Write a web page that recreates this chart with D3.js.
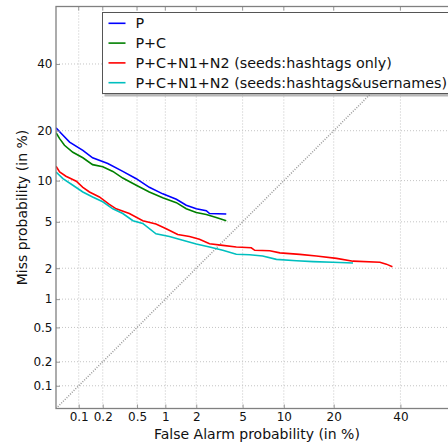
<!DOCTYPE html>
<html>
<head>
<meta charset="utf-8">
<script src="https://cdn.jsdelivr.net/npm/d3@7"></script>
<style>
  body { margin: 0; background: #fff; }
  svg { display: block; font-family: "DejaVu Sans", sans-serif; }
</style>
</head>
<body>
<svg id="chart" width="448" height="445"></svg>
<script>
// DET curves, values in percent
const tickValues = [0.1, 0.2, 0.5, 1, 2, 5, 10, 20, 40];
const seriesNames = [
  'P',
  'P+C',
  'P+C+N1+N2 (seeds:hashtags only)',
  'P+C+N1+N2 (seeds:hashtags&usernames)'
];
const seriesColors = ['#0000ff', '#008000', '#ff0000', '#00bfbf'];

const pFalseAlarm = [0.05, 0.059, 0.076, 0.113, 0.15, 0.23, 0.345, 0.49, 0.68, 0.94, 1.29, 1.61, 2.0, 2.47, 2.64, 3.68];
const pMiss = [20.7, 19.3, 17.3, 15.5, 14.0, 12.9, 11.5, 10.3, 9.0, 8.1, 7.4, 6.7, 6.3, 6.1, 5.8, 5.75];

const pcFalseAlarm = [0.05, 0.056, 0.065, 0.084, 0.113, 0.15, 0.20, 0.264, 0.345, 0.49, 0.68, 0.94, 1.29, 1.61, 2.0, 2.47, 3.02, 3.68];
const pcMiss = [19.5, 18.1, 16.6, 15.1, 14.0, 12.7, 12.3, 11.5, 10.4, 9.3, 8.35, 7.6, 7.0, 6.3, 5.9, 5.7, 5.4, 5.1];

const hashFalseAlarm = [0.05, 0.056, 0.068, 0.093, 0.113, 0.137, 0.182, 0.24, 0.289, 0.41, 0.578, 0.80, 1.02, 1.33, 1.73, 2.14, 2.64, 3.44, 4.45, 5.84, 6.2, 8.0, 9.4, 12.7, 16.0, 20.7, 25.1, 33.2, 35.3, 37.3];
const hashMiss = [12.4, 11.4, 10.7, 9.9, 9.0, 8.35, 7.7, 6.8, 6.3, 5.8, 5.1, 4.8, 4.4, 3.95, 3.8, 3.6, 3.3, 3.2, 3.1, 3.05, 2.9, 2.87, 2.75, 2.67, 2.58, 2.46, 2.32, 2.27, 2.18, 2.06];

const userFalseAlarm = [0.05, 0.062, 0.084, 0.113, 0.15, 0.20, 0.264, 0.345, 0.45, 0.578, 0.80, 1.1, 1.49, 2.0, 2.64, 3.44, 4.45, 5.67, 7.1, 8.9, 12.1, 15.3, 19.8, 25.1];
const userMiss = [11.4, 10.3, 9.3, 8.35, 7.7, 7.1, 6.3, 5.8, 5.1, 4.85, 4.0, 3.8, 3.54, 3.28, 3.1, 2.9, 2.68, 2.65, 2.58, 2.41, 2.34, 2.3, 2.27, 2.23];

const series = [
  [pFalseAlarm, pMiss],
  [pcFalseAlarm, pcMiss],
  [hashFalseAlarm, hashMiss],
  [userFalseAlarm, userMiss]
].map(([fa, miss], i) => ({
  name: seriesNames[i],
  color: seriesColors[i],
  points: fa.map((v, j) => [v, miss[j]])
}));

// inverse normal cdf (Acklam)
const probit = p => {
  const a = [-3.969683028665376e+01, 2.209460984245205e+02, -2.759285104469687e+02, 1.383577518672690e+02, -3.066479806614716e+01, 2.506628277459239e+00];
  const b = [-5.447609879822406e+01, 1.615858368580409e+02, -1.556989798598866e+02, 6.680131188771972e+01, -1.328068155288572e+01];
  const c = [-7.784894002430293e-03, -3.223964580411365e-01, -2.400758277161838e+00, -2.549732539343734e+00, 4.374664141464968e+00, 2.938163982698783e+00];
  const d = [7.784695709041462e-03, 3.224671290700398e-01, 2.445134137142996e+00, 3.754408661907416e+00];
  const plow = 0.02425;
  if (p < plow) {
    const q = Math.sqrt(-2 * Math.log(p));
    return (((((c[0] * q + c[1]) * q + c[2]) * q + c[3]) * q + c[4]) * q + c[5]) /
      ((((d[0] * q + d[1]) * q + d[2]) * q + d[3]) * q + 1);
  }
  if (p <= 1 - plow) {
    const q = p - 0.5, r = q * q;
    return (((((a[0] * r + a[1]) * r + a[2]) * r + a[3]) * r + a[4]) * r + a[5]) * q /
      (((((b[0] * r + b[1]) * r + b[2]) * r + b[3]) * r + b[4]) * r + 1);
  }
  const q = Math.sqrt(-2 * Math.log(1 - p));
  return -(((((c[0] * q + c[1]) * q + c[2]) * q + c[3]) * q + c[4]) * q + c[5]) /
    ((((d[0] * q + d[1]) * q + d[2]) * q + d[3]) * q + 1);
};
const z = pct => probit(pct / 100);

const lo = 0.05, hi = 60;
const plot = { left: 56, top: 6.5, bottom: 408.5 };
const unit = 113.4;
const x = d3.scaleLinear().domain([z(lo), z(hi)]).range([plot.left, plot.left + (z(hi) - z(lo)) * unit]);
const y = d3.scaleLinear().domain([z(lo), z(hi)]).range([plot.bottom, plot.top]);
const right = x.range()[1];

const svg = d3.select('#chart');

svg.append('defs').append('clipPath').attr('id', 'clip')
  .append('rect')
  .attr('x', plot.left).attr('y', plot.top)
  .attr('width', right - plot.left).attr('height', plot.bottom - plot.top);

// grid
const grid = svg.append('g');
grid.selectAll('.vgrid')
  .data(tickValues)
  .enter().append('line')
  .attr('x1', d => x(z(d))).attr('x2', d => x(z(d)))
  .attr('y1', plot.top).attr('y2', plot.bottom)
  .style('stroke', '#c4c4c4').style('stroke-dasharray', '1,2');
grid.selectAll('.hgrid')
  .data(tickValues)
  .enter().append('line')
  .attr('y1', d => y(z(d))).attr('y2', d => y(z(d)))
  .attr('x1', plot.left).attr('x2', right)
  .style('stroke', '#c4c4c4').style('stroke-dasharray', '1,2');

// chance diagonal
svg.append('line')
  .attr('clip-path', 'url(#clip)')
  .attr('x1', x(z(lo))).attr('y1', y(z(lo)))
  .attr('x2', x(z(hi))).attr('y2', y(z(hi)))
  .style('stroke', '#999').style('stroke-width', 1.5).style('stroke-dasharray', '1,1.5');

// curves
const line = d3.line()
  .x(d => x(z(d[0])))
  .y(d => y(z(d[1])));

svg.append('g').attr('clip-path', 'url(#clip)')
  .selectAll('path')
  .data(series)
  .enter().append('path')
  .attr('d', d => line(d.points))
  .style('fill', 'none')
  .style('stroke', d => d.color)
  .style('stroke-width', 1.6);

// axes
const fmt = d => String(d);
const xAxis = d3.axisBottom(x)
  .tickValues(tickValues.map(z))
  .tickFormat((v, i) => fmt(tickValues[i]))
  .tickSizeInner(-4).tickSizeOuter(0).tickPadding(4);
const yAxis = d3.axisLeft(y)
  .tickValues(tickValues.map(z))
  .tickFormat((v, i) => fmt(tickValues[i]))
  .tickSizeInner(-4).tickSizeOuter(0).tickPadding(3.5);

const gx = svg.append('g').attr('transform', `translate(0,${plot.bottom})`).call(xAxis);
const gy = svg.append('g').attr('transform', `translate(${plot.left},0)`).call(yAxis);
[gx, gy].forEach(g => {
  g.select('.domain').remove();
  g.selectAll('.tick line').style('stroke', '#999');
  g.selectAll('.tick text')
    .style('font-family', '"DejaVu Sans", sans-serif')
    .style('font-size', '12px')
    .style('fill', '#111');
});

// top ticks
svg.append('g').selectAll('line')
  .data(tickValues)
  .enter().append('line')
  .attr('x1', d => x(z(d))).attr('x2', d => x(z(d)))
  .attr('y1', plot.top).attr('y2', plot.top + 4)
  .style('stroke', '#999');

// frame
svg.append('rect')
  .attr('x', plot.left).attr('y', plot.top)
  .attr('width', right - plot.left).attr('height', plot.bottom - plot.top)
  .style('fill', 'none').style('stroke', '#808080').style('stroke-width', 1.3);

// axis labels
svg.append('text')
  .attr('x', (plot.left + right) / 2).attr('y', 439)
  .attr('text-anchor', 'middle')
  .style('font-size', '14px').style('fill', '#111')
  .text('False Alarm probability (in %)');
svg.append('text')
  .attr('transform', `translate(27,${(plot.top + plot.bottom) / 2}) rotate(-90)`)
  .attr('text-anchor', 'middle')
  .style('font-size', '14px').style('fill', '#111')
  .text('Miss probability (in %)');

// legend
const legend = svg.append('g').attr('transform', 'translate(102.5,12.5)');
legend.append('rect')
  .attr('x', 2).attr('y', 2).attr('width', 360).attr('height', 82)
  .style('fill', '#888').style('opacity', 0.6);
legend.append('rect')
  .attr('width', 360).attr('height', 81)
  .style('fill', '#fff').style('stroke', '#555').style('stroke-width', 1);
const rows = legend.selectAll('.row')
  .data(series)
  .enter().append('g')
  .attr('transform', (d, i) => `translate(0,${10.8 + i * 19.8})`);
rows.append('line')
  .attr('x1', 6).attr('x2', 23)
  .style('stroke', d => d.color).style('stroke-width', 1.6);
rows.append('text')
  .attr('x', 33).attr('dy', '0.35em')
  .style('font-size', '14.3px').style('fill', '#111')
  .text(d => d.name);
</script>
</body>
</html>
